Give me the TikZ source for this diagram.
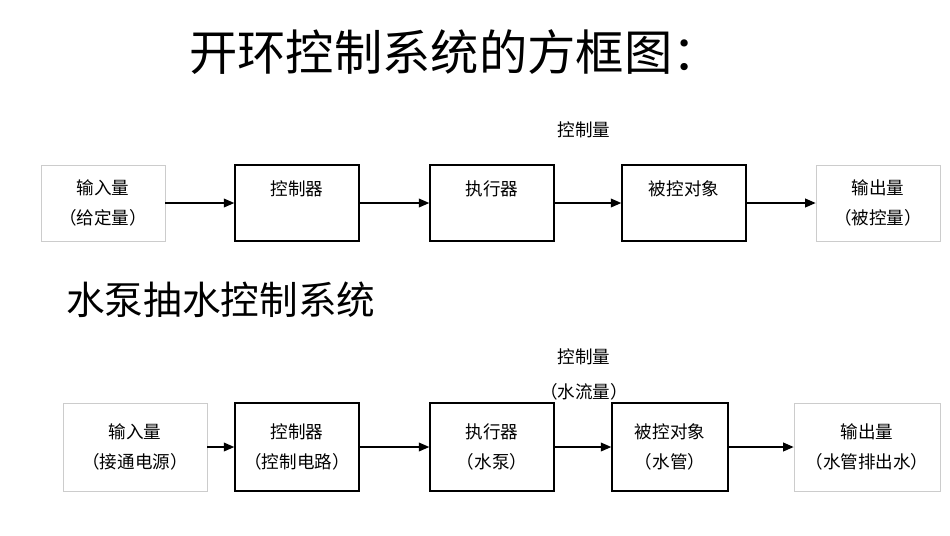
\documentclass[tikz,border=0pt]{standalone}
\usepackage{fontspec}
\setmainfont{Noto Sans CJK SC}
\usetikzlibrary{arrows.meta,positioning}

\begin{document}
\begin{tikzpicture} [x=0.02cm, y=-0.02cm,
    block/.style={draw, thick, minimum width=124*0.02cm, minimum height=76*0.02cm, align=center, font=\fontsize{10}{17.5}\selectfont, inner sep=0pt},
    endblock/.style={block, draw=gray!40, thin},
    flow/.style={thick, -{Triangle[width=5pt,length=6pt]}},
    tag/.style={font=\fontsize{10}{12}\selectfont}
  ]
\useasboundingbox (0,0) rectangle (950,535);

\node[font=\fontsize{27.5}{30}\selectfont] (title) at (455,52) {开环控制系统的方框图：};

% open loop
\node[endblock] (in) at (103,203) {输入量\\（给定量）};
\node[block] (ctrl) at (297,203) {控制器\\~};
\node[block] (act) at (492,203) {执行器\\~};
\node[block] (plant) at (684,203) {被控对象\\~};
\node[endblock] (out) at (878,203) {输出量\\（被控量）};
\node[tag] (cv) at (584,130) {控制量};

\draw[flow] (in) -- (ctrl);
\draw[flow] (ctrl) -- (act);
\draw[flow] (act) -- (plant);
\draw[flow] (plant) -- (out);

% pump example
\node[font=\fontsize{22}{24}\selectfont, anchor=west] (sub) at (60,300) {水泵抽水控制系统};

\node[endblock, minimum width=144*0.02cm, minimum height=88*0.02cm] (pin) at (135,447) {输入量\\（接通电源）};
\node[block, minimum height=88*0.02cm] (pctrl) at (297,447) {控制器\\（控制电路）};
\node[block, minimum height=88*0.02cm] (pact) at (492,447) {执行器\\（水泵）};
\node[block, minimum width=116*0.02cm, minimum height=88*0.02cm] (pplant) at (670,447) {被控对象\\（水管）};
\node[endblock, minimum width=146*0.02cm, minimum height=88*0.02cm] (pout) at (867,447) {输出量\\（水管排出水）};
\node[tag] (pcv) at (584,357) {控制量};
\node[tag] (pflow) at (584,392) {（水流量）};

\draw[flow] (pin) -- (pctrl);
\draw[flow] (pctrl) -- (pact);
\draw[flow] (pact) -- (pplant);
\draw[flow] (pplant) -- (pout);

\end{tikzpicture}
\end{document}
